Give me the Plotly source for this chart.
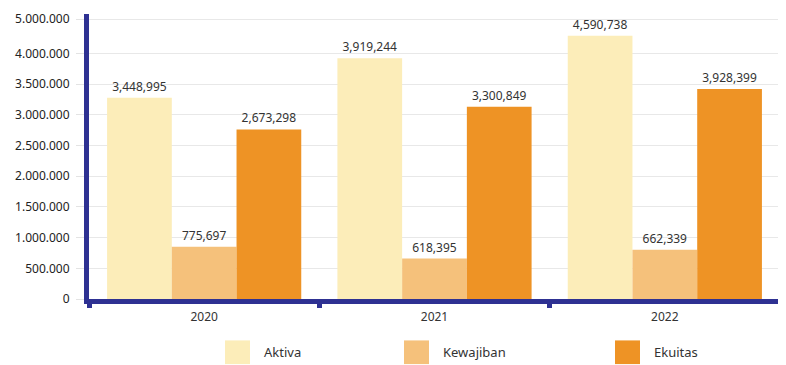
import plotly.graph_objects as go

years = ["2020", "2021", "2022"]
series_names = ["Aktiva", "Kewajiban", "Ekuitas"]
# bar heights as drawn in the picture
aktiva = [3277000, 3920000, 4289000]
kewajiban = [851000, 659000, 803000]
ekuitas = [2763000, 3133000, 3422000]
# value labels as printed
aktiva_lbl = ["3,448,995", "3,919,244", "4,590,738"]
kewajiban_lbl = ["775,697", "618,395", "662,339"]
ekuitas_lbl = ["2,673,298", "3,300,849", "3,928,399"]
# y-axis ticks as printed
y_tickvals = [0, 500000, 1000000, 1500000, 2000000, 2500000, 3000000, 3500000, 4000000, 4560000]
y_ticktext = ["0", "500.000", "1.000.000", "1.500.000", "2.000.000", "2.500.000",
              "3.000.000", "3.500.000", "4.000.000", "5.000.000"]

colors = ["#FCEDB9", "#F5C17B", "#EE9325"]
axis_color = "#2E3192"
font_family = "Noto Sans"

OFF = 8  # page body margin
W, H = 786 - OFF, 365 - OFF
ML, MR, MT, MB = 89 - OFF, 6, 10 - OFF, 66
PW, PH = W - ML - MR, H - MT - MB

fig = go.Figure()
for name, vals, lbls, col in zip(series_names, [aktiva, kewajiban, ekuitas],
                                 [aktiva_lbl, kewajiban_lbl, ekuitas_lbl], colors):
    fig.add_trace(go.Bar(
        x=years, y=vals, name=name, marker=dict(color=col, line=dict(width=0)),
        text=lbls, textposition="outside", cliponaxis=False, constraintext="none",
        textfont=dict(family=font_family, size=12, color="#333333"),
        hoverinfo="x+y+name", showlegend=False,
    ))

def px_x(px):
    return (px - OFF - ML) / PW

def px_y(py):
    return (H - MB - (py - OFF)) / PH

# legend drawn as swatches + text
legend_px = [225, 404, 615]
for name, col, lx in zip(series_names, colors, legend_px):
    fig.add_shape(type="rect", xref="paper", yref="paper",
                  x0=px_x(lx), x1=px_x(lx + 25), y0=px_y(365), y1=px_y(341),
                  fillcolor=col, line=dict(width=0))
    fig.add_annotation(xref="paper", yref="paper", x=px_x(lx + 37), y=px_y(353),
                       text=name, showarrow=False, xanchor="left", yanchor="middle",
                       font=dict(family=font_family, size=13, color="#333333"))

fig.update_layout(
    width=W, height=H,
    margin=dict(l=ML, r=MR, t=MT, b=MB),
    paper_bgcolor="white", plot_bgcolor="white",
    barmode="group", bargap=0.157, bargroupgap=0,
    font=dict(family=font_family, size=12, color="#333333"),
    xaxis=dict(
        type="category", range=[-0.5, 2.5],
        showline=True, linewidth=5, linecolor=axis_color,
        ticks="outside", tickson="boundaries", ticklen=4, tickwidth=5, tickcolor=axis_color,
        showgrid=False, zeroline=False, ticklabelstandoff=3,
        tickfont=dict(family=font_family, size=12, color="#333333"),
    ),
    yaxis=dict(
        range=[0, PH / 62.25 * 1e6],
        tickvals=y_tickvals, ticktext=y_ticktext,
        showline=True, linewidth=5, linecolor=axis_color,
        ticks="outside", ticklen=8, tickwidth=1, tickcolor="#E3E3E3",
        showgrid=True, gridcolor="#E8E8E8", gridwidth=1, zeroline=False,
        ticklabelstandoff=4, ticklabeloverflow="allow",
        tickfont=dict(family=font_family, size=12, color="#222222"),
    ),
)

fig.write_html("out.html")
